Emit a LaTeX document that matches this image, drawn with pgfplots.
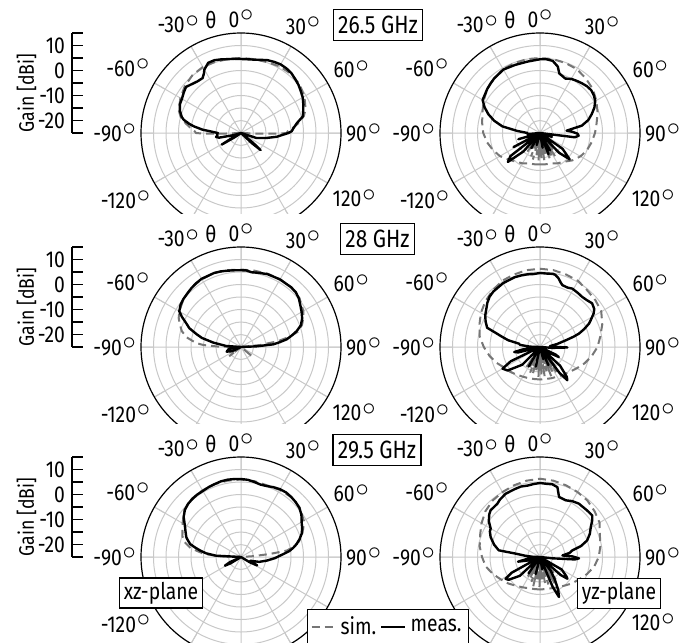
\documentclass[border=0pt]{standalone}
\usepackage{fontspec}
\setmainfont{Fira Sans}[FakeStretch=0.84]
\usepackage{pgfplots}
\usepackage{pgfplotstable}
\pgfplotsset{compat=1.18}
\usepgfplotslibrary{polar}

\newcommand\dg{\kern0.4pt\raisebox{2.9pt}{\scalebox{1.1}{$\circ$}}}
\definecolor{simgray}{RGB}{118,118,118}
\definecolor{gridgray}{RGB}{200,200,200}

% theta [deg], gain [dBi]
\pgfplotstableread{
t g
-180 -25
-130 -25
-124 -22
-121 -16
-118 -22
-112 -25
-106 -22
-102 -16
-99 -14.9
-96 -15.5
-92 -15.5
-90 -15.7
-88 -14
-85 -9.5
-82 -6
-80 -4
-77 -1.5
-75 -0.5
-70 1
-65 2
-60 2.3
-55 3
-50 3.7
-45 2.7
-40 2
-35 1.8
-32 3
-30 4.3
-25 6
-20 6
-15 5.5
-10 5
-5 4.8
0 4.6
5 4.6
10 4.8
15 5.3
20 6
25 6.4
30 6.7
35 6.6
40 6.3
45 5.6
50 5
55 4.2
60 3.5
65 2.5
70 1.5
75 0.6
80 -2.3
85 -4
88 -4.7
90 -6
93 -8.7
96 -10.6
101 -14.6
108 -18.5
115 -25
126 -25
129 -19
131 -14.6
133 -19
136 -25
180 -25
}\mA
\pgfplotstableread{
t g
-180 -25
-125 -25
-122 -20
-119 -25
-94 -25
-92 -17
-91 -10
-90 -7
-88 -6.5
-85 -5
-80 -2.5
-75 0
-70 1.5
-60 3
-50 4.3
-40 5.2
-30 5.5
-20 5.3
-10 5
0 5
10 5
20 5.2
30 5.8
40 6
50 5.5
60 4.3
70 2.5
75 1
80 -1.5
85 -4.5
88 -6.3
90 -6.7
91 -10
92 -17
94 -25
180 -25
}\sA

\pgfplotstableread{
t g
-180 -25
-165 -20
-160 -25
-150 -18
-146 -25
-138 -15
-132 -7.7
-128 -10
-125 -25
-118 -13
-114 -25
-106 -16
-102 -25
-95 -20
-90 -20
-85 -16
-80 -9.7
-75 -6
-70 -3
-65 -0.5
-60 1.5
-50 2.5
-45 3
-40 3.5
-30 4.3
-20 4
-10 4
0 4.5
5 4.6
10 4.3
15 2.5
18 0
20 -0.3
25 -1
30 0
35 0.5
40 1
45 1.5
50 1.7
55 1.3
60 0.5
65 -1
70 -3
75 -5
80 -8
85 -14.3
88 -12
91 -10
94 -9.5
97 -11
100 -25
108 -20
112 -25
125 -14
131.6 -9.1
136 -14
142 -25
150 -17
155 -25
158 -15.8
162 -25
170 -19
175 -25
180 -25
}\mB
\pgfplotstableread{
t g
-180 -12.5
-170 -12.3
-160 -12
-150 -11
-140 -10
-130 -8.5
-120 -6.5
-110 -5
-100 -3.5
-90 -2.3
-80 -1.5
-70 -0.5
-60 1
-50 2.5
-40 3.5
-30 4.5
-20 4.8
-10 5
0 5
10 5
20 4.8
30 4.5
40 3.5
50 2.5
60 1
70 -0.5
80 -2
90 -3
100 -4
110 -5
120 -6.3
130 -8
140 -10
150 -11
160 -12
170 -12.3
180 -12.5
}\sB
\pgfplotstableread{
t g
140 -25
142 -16
144 -25
147 -14
150 -25
153 -15
156 -25
159 -13.5
162 -25
165 -16
168 -25
171 -14
174 -25
177 -15
180 -25
183 -14
186 -25
189 -16
192 -25
195 -14
198 -25
201 -15
204 -25
207 -17
210 -25
214 -16
218 -25
}\kB

\pgfplotstableread{
t g
-180 -25
-125 -25
-115 -21
-108 -19
-104 -19.5
-100 -20
-96 -22
-92 -25
-86 -19
-81 -13.8
-77 -9
-74 -6.6
-70 -3
-67 -1.4
-63 1.5
-60 3.5
-55 4.5
-50 5
-45 5.3
-40 5.8
-35 6.2
-30 6.5
-20 6.5
-15 6.3
-10 6
-5 5.8
0 5.7
4 5.7
8 5.2
12 5.4
15 5.6
20 6
25 6
30 6.2
40 6.2
45 6
50 5.2
55 4
60 3
65 2
70 0.5
74 -1.8
77 -4
80.5 -6.5
83 -9.5
85.3 -12
87.5 -18.7
90 -25
180 -25
}\mC
\pgfplotstableread{
t g
-180 -25
-132 -25
-128 -19
-124 -25
-92 -25
-89 -16
-87 -10
-85 -7
-80 -3
-75 -0.5
-70 1
-65 2.5
-60 3.5
-50 5
-40 6
-30 6.3
-20 6.5
-10 6.2
0 6
10 6
20 6.2
30 6.3
40 6.2
50 5.5
60 3.8
65 2.5
70 1
75 -1.5
78 -5
81 -10
84 -17
86 -25
127 -25
130 -19
133 -25
180 -25
}\sC

\pgfplotstableread{
t g
-180 -25
-172 -25
-168 -17
-165 -25
-155 -25
-150 -16
-146 -25
-135 -15
-126 -9
-120 -7.7
-116 -12
-112 -25
-104 -16
-101 -14.5
-98 -18
-94 -25
-88 -21
-84 -17
-81 -16.5
-78 -12
-75 -9.4
-70 -2.5
-65 -1
-60 0.3
-50 2.5
-45 3.5
-40 4
-30 4.5
-20 4.7
-15 4.6
-10 4.5
-5 4.3
0 4.6
5 4.5
10 4.7
12 4.5
15 3.5
18 2
20 1.3
25 1.2
29 1.7
35 1.4
40 1.2
45 1.5
50 2.2
55 1.5
58 0.3
62 -2
64.5 -3.3
68 -6
71 -8.5
73 -11
75.4 -14.3
80 -18
85 -21
89 -20
91 -14
94 -20
100 -25
112 -25
116 -18
118 -16.5
121 -20
126 -25
133 -14
138 -9
140.6 -7.8
143 -12
148 -25
155 -17
158 -25
165 -20
170 -25
180 -25
}\mD
\pgfplotstableread{
t g
-180 -12
-170 -12
-160 -11.7
-150 -11.3
-140 -10.5
-130 -9.5
-120 -8.5
-110 -6.5
-100 -4.5
-90 -2.5
-80 -0.5
-70 0.8
-60 2.3
-50 3.5
-40 4.5
-30 5.5
-20 5.8
-10 6.2
0 6.3
10 6.2
20 5.8
30 5.5
40 4.5
50 4
60 3.3
70 1.5
80 -0.5
90 -2
100 -4
110 -6
120 -8
130 -9.5
140 -10.5
150 -11.3
160 -11.7
170 -12
180 -12
}\sD
\pgfplotstableread{
t g
138 -25
141 -15
144 -25
147 -13
150 -25
153 -14
156 -25
159 -12.5
162 -25
165 -15
168 -25
171 -13
174 -25
177 -14
180 -25
183 -13
186 -25
189 -15
192 -25
195 -13.5
198 -25
201 -14
204 -25
207 -16
210 -25
214 -15
218 -25
}\kD

\pgfplotstableread{
t g
-180 -25
-125 -25
-121 -20
-118.4 -17.7
-115 -20
-110 -25
-92 -25
-87 -15
-84 -11
-81 -8.5
-78 -6
-75.7 -4
-72 -2.5
-70 -1.7
-65 -0.5
-60 1
-55 3
-50 4.3
-45 5
-40 5.3
-35 5.5
-30 5.5
-25 5.8
-20 6
-15 6.3
-10 6.4
-5 6.3
0 6.2
5 6
10 5.5
15 5
20 5.2
25 5.8
30 6.3
35 6.5
40 6.3
45 6
50 5.5
55 4.5
60 3
65 2
69 1
73 -0.5
77 -2.2
80 -3.8
83 -5.5
86 -8
92 -11.5
98 -14.6
105 -17.5
112 -21
117.6 -17.7
121 -21
125 -25
180 -25
}\mE
\pgfplotstableread{
t g
-180 -25
-92 -25
-88 -16
-85 -10
-80 -4.5
-75 -1.5
-70 0
-60 2
-50 4.5
-40 5.5
-30 5.8
-20 6
-10 6
0 6
10 5.8
20 5.5
30 6
40 6.3
50 5.7
60 4
65 2.5
70 1
75 -1
80 -4.5
82 -6.6
84 -13.4
86 -20
88 -25
180 -25
}\sE

\pgfplotstableread{
t g
-180 -25
-170 -25
-166 -18
-162 -25
-150 -25
-145 -17
-140 -25
-133 -14
-126 -9.5
-122.3 -8.7
-119 -12
-114 -25
-106 -20
-102 -16
-98 -20
-94 -25
-88 -22
-85 -19
-82 -15
-80.8 -8.3
-75 -6
-68 -3.7
-63 -2.5
-60 -2.2
-55 0
-50 1.5
-46.6 2.2
-38.7 2.3
-35 3
-28.5 3.8
-20 4
-15 4.2
-10 4
-5 4.3
0 4.6
5 4.4
9.6 4.5
14 3.8
17.6 0.2
24.4 -0.1
30 0.8
36 1.4
45.4 1.5
51.5 1.7
55 0.5
59.4 -1.4
65 -3
70.6 -5
75 -8
78.4 -11.8
82 -13
86 -16
89 -12
92 -9.4
94 -11
96 -20
100 -25
110 -25
120 -15
126 -12
128.4 -11
131 -14
136 -25
142 -18
147 -14
151 -10
154.6 -7.3
157 -12
160 -25
170 -20
175 -25
180 -25
}\mF
\pgfplotstableread{
t g
-180 -12
-170 -12
-160 -11.7
-150 -11
-140 -10
-130 -8.5
-120 -7
-110 -5
-100 -3
-90 -1.8
-80 -0.5
-70 0.5
-60 2
-50 3.5
-40 4.5
-30 5
-20 5.5
-10 6
0 6.3
10 6
20 5.5
30 5
40 4.5
50 3.5
60 2.5
70 0.5
80 -0.5
90 -1.5
100 -3
110 -5
120 -7
130 -8.5
140 -10
150 -11
160 -11.7
170 -12
180 -12
}\sF
\pgfplotstableread{
t g
136 -25
139 -16
142 -25
145 -14
148 -25
151 -13
154 -25
157 -15
160 -25
163 -13.5
166 -25
169 -14
172 -25
175 -16
178 -25
181 -13
184 -25
187 -15
190 -25
193 -13
196 -25
199 -14.5
202 -25
205 -16
208 -25
212 -15
216 -25
}\kF

\pgfplotsset{
  pat/.style={
    scale only axis, width=100pt, height=100pt,
    anchor=center,
    ymin=0, ymax=40,
    ytick={5,10,...,35}, yticklabels={},
    yticklabel style={text opacity=0},
    ytick style={draw=none},
    y axis line style={draw=none},
    xtick={0,30,...,330},
    xticklabels={90\dg,60\dg,30\dg,0\dg,-30\dg,-60\dg,-90\dg,-120\dg,-150\dg,180\dg,150\dg,120\dg},
    grid=major,
    major grid style={gridgray, line width=0.5pt},
    axis line style={black, line width=0.6pt},
    xtick style={gridgray, line width=0.5pt},
    tick align=outside, major tick length=6pt,
    xticklabel style={font=\fontsize{11.5}{12}\selectfont, shift={(\tick:5pt)}},
  },
  meas/.style={black, line width=1.2pt, line join=round},
  sim/.style={simgray, line width=1pt, dash pattern=on 4pt off 2.5pt},
  gaxis/.style={
    anchor=south west, scale only axis, width=5pt, height=50pt,
    xmin=0, xmax=1, ymin=-25, ymax=15,
    hide x axis, axis y line*=left,
    ytick={-20,-10,0,10}, yticklabels={-20,-10,0,10},
    minor ytick={-25,-15,-5,5,15},
    tick align=inside, major tick length=5.5pt, minor tick length=5.5pt,
    every tick/.style={black, line width=0.6pt},
    axis line style={line width=0.6pt},
    ticklabel style={font=\fontsize{11.5}{12}\selectfont},
    ylabel={Gain [dBi]},
    ylabel style={font=\fontsize{10.5}{12}\selectfont, yshift=-6pt, xshift=-5pt},
  },
}
\tikzset{
  boxlab/.style={draw, line width=0.6pt, fill=white, inner xsep=2.5pt, inner ysep=3.2pt, font=\fontsize{12.5}{13}\selectfont},
  planelab/.style={draw, line width=0.6pt, fill=white, inner xsep=2pt, inner ysep=2pt, font=\fontsize{11.5}{12}\selectfont},
}

\begin{document}
\begin{tikzpicture}
% row 1: 26.5 GHz
\begin{scope}
\clip (0pt,0pt) rectangle (347.5pt,-106.5pt);
\begin{polaraxis}[pat, at={(120.5pt,-66.5pt)}]
\addplot[sim] table[x expr=90-\thisrow{t}, y expr=\thisrow{g}+25] {\sA};
\addplot[meas] table[x expr=90-\thisrow{t}, y expr=\thisrow{g}+25] {\mA};
\end{polaraxis}
\begin{polaraxis}[pat, at={(270pt,-66.5pt)}]
\addplot[sim] table[x expr=90-\thisrow{t}, y expr=\thisrow{g}+25] {\sB};
\addplot[sim] table[x expr=90-\thisrow{t}, y expr=\thisrow{g}+25] {\kB};
\addplot[meas] table[x expr=90-\thisrow{t}, y expr=\thisrow{g}+25] {\mB};
\end{polaraxis}
\end{scope}
% row 2: 28 GHz
\begin{scope}
\clip (0pt,-106.5pt) rectangle (347.5pt,-211.5pt);
\begin{polaraxis}[pat, at={(120.5pt,-173.5pt)}]
\addplot[sim] table[x expr=90-\thisrow{t}, y expr=\thisrow{g}+25] {\sC};
\addplot[meas] table[x expr=90-\thisrow{t}, y expr=\thisrow{g}+25] {\mC};
\end{polaraxis}
\begin{polaraxis}[pat, at={(270pt,-173.5pt)}]
\addplot[sim] table[x expr=90-\thisrow{t}, y expr=\thisrow{g}+25] {\sD};
\addplot[sim] table[x expr=90-\thisrow{t}, y expr=\thisrow{g}+25] {\kD};
\addplot[meas] table[x expr=90-\thisrow{t}, y expr=\thisrow{g}+25] {\mD};
\end{polaraxis}
\end{scope}
% row 3: 29.5 GHz
\begin{scope}
\clip (0pt,-211.5pt) rectangle (347.5pt,-321pt);
\begin{polaraxis}[pat, at={(120.5pt,-278.5pt)}]
\addplot[sim] table[x expr=90-\thisrow{t}, y expr=\thisrow{g}+25] {\sE};
\addplot[meas] table[x expr=90-\thisrow{t}, y expr=\thisrow{g}+25] {\mE};
\end{polaraxis}
\begin{polaraxis}[pat, at={(270pt,-278.5pt)},
    legend style={at={(-0.26,0.15)}, anchor=center, legend columns=2,
      draw=black, line width=0.6pt, inner sep=1.5pt, fill=white,
      font=\fontsize{11.5}{12}\selectfont},
    legend image code/.code={\draw[#1] (0pt,0pt) -- (12pt,0pt);},
    legend cell align=left]
\addplot[sim] table[x expr=90-\thisrow{t}, y expr=\thisrow{g}+25] {\sF};
\addlegendentry{sim.}
\addplot[sim, forget plot] table[x expr=90-\thisrow{t}, y expr=\thisrow{g}+25] {\kF};
\addplot[meas] table[x expr=90-\thisrow{t}, y expr=\thisrow{g}+25] {\mF};
\addlegendentry{meas.}
\end{polaraxis}
\end{scope}

% gain scales
\begin{axis}[gaxis, at={(36pt,-66.5pt)}] \end{axis}
\begin{axis}[gaxis, at={(36pt,-173.5pt)}] \end{axis}
\begin{axis}[gaxis, at={(36pt,-278.5pt)}] \end{axis}

% theta symbols
\foreach \cx/\cy in {120.5/66.5, 270/66.5, 120.5/173.5, 270/173.5, 120.5/278.5, 270/278.5}
  \node[font=\fontsize{11.5}{12}\selectfont] at (\cx pt-15pt, -\cy pt+56.5pt) {θ};

% labels
\node[boxlab] at (189pt,-12.5pt) {26.5 GHz};
\node[boxlab] at (188.75pt,-119.5pt) {28 GHz};
\node[boxlab] at (188.5pt,-225pt) {29.5 GHz};
\node[planelab] at (80.5pt,-296.5pt) {xz-plane};
\node[planelab] at (309.5pt,-296.75pt) {yz-plane};

\pgfresetboundingbox
\path[use as bounding box] (0pt,0pt) rectangle (347.5pt,-321pt);
\end{tikzpicture}
\end{document}
